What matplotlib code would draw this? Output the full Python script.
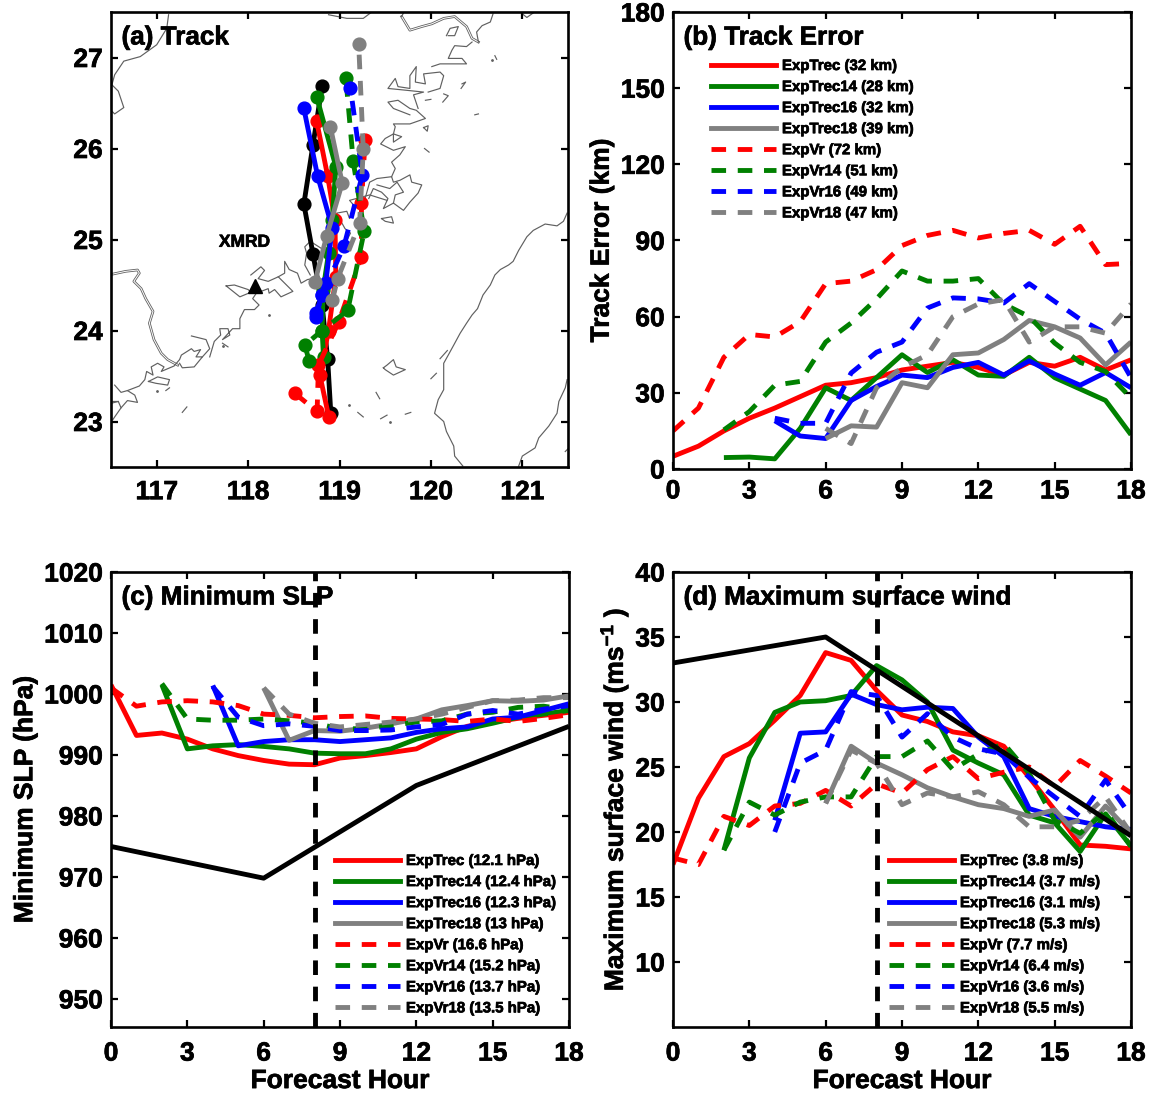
import matplotlib
matplotlib.use('Agg')
import matplotlib.pyplot as plt
import matplotlib.patheffects as pe
from matplotlib.lines import Line2D
from matplotlib.text import Text

plt.rcParams['font.family'] = ['Liberation Sans', 'DejaVu Sans']
plt.rcParams['font.weight'] = 'bold'
plt.rcParams['mathtext.fontset'] = 'custom'
plt.rcParams['mathtext.rm'] = 'Liberation Sans:bold'
plt.rcParams['mathtext.bf'] = 'Liberation Sans:bold'
plt.rcParams['mathtext.default'] = 'bf'

W, H = 1150, 1093
RED, GREEN, BLUE, GRAY = '#ff0000', '#008000', '#0000ff', '#808080'
names = ['ExpTrec', 'ExpTrec14', 'ExpTrec16', 'ExpTrec18', 'ExpVr', 'ExpVr14', 'ExpVr16', 'ExpVr18']
colors = [RED, GREEN, BLUE, GRAY, RED, GREEN, BLUE, GRAY]
starts = [0, 2, 4, 6, 0, 2, 4, 6]

# ---- Track (lon, lat) ----
obs_lon = [118.905, 118.87, 118.81, 118.71, 118.61, 118.71, 118.81]
obs_lat = [23.09, 23.69, 24.28, 24.84, 25.39, 26.04, 26.69]
trk_lon = [
    [118.883, 118.785, 118.88, 118.96, 118.95, 118.87, 118.75],
    [118.825, 118.81, 118.82, 118.88, 118.92, 118.96, 118.75],
    [118.74, 118.81, 118.85, 118.92, 118.76, 118.61],
    [118.73, 118.86, 119.03, 118.90],
    [118.51, 118.755, 118.77, 118.99, 119.24, 119.24, 119.28],
    [118.67, 118.62, 118.81, 119.09, 119.27, 119.15, 119.07],
    [118.74, 118.81, 119.05, 119.25, 119.12],
    [118.92, 118.98, 119.22, 119.26, 119.21],
]
trk_lat = [
    [23.05, 23.51, 24.0, 24.59, 25.21, 25.70, 26.30],
    [23.71, 24.0, 24.44, 24.85, 25.21, 25.80, 26.57],
    [24.19, 24.39, 24.52, 25.13, 25.70, 26.44],
    [24.53, 25.04, 25.62, 26.24],
    [23.31, 23.11, 23.62, 24.09, 24.81, 25.40, 26.09],
    [23.66, 23.84, 24.0, 24.22, 25.09, 25.86, 26.77],
    [24.15, 24.39, 24.93, 25.71, 26.66],
    [24.33, 24.57, 25.18, 25.99, 27.15],
]

# ---- Coastlines (lon, lat) ----
rivers = [
    [(116.52, 24.62), (116.66, 24.65), (116.79, 24.665), (116.81, 24.63), (116.75, 24.54), (116.83, 24.46), (116.88, 24.35),
     (116.96, 24.21), (116.92, 24.08), (116.97, 23.90), (117.05, 23.75), (117.12, 23.68), (117.23, 23.62)],
    [(119.68, 27.45), (119.77, 27.30), (119.90, 27.34), (120.01, 27.37), (120.14, 27.43), (120.26, 27.45), (120.39, 27.34),
     (120.45, 27.21), (120.52, 27.17)],
]
coasts = [
    [(117.13, 27.47), (117.11, 27.32), (117.0, 27.14), (116.82, 27.01), (116.64, 26.96), (116.54, 26.81), (116.51, 26.70),
     (116.58, 26.63), (116.64, 26.45), (116.54, 26.38), (116.51, 26.41)],
    [(116.52, 23.22), (116.58, 23.22), (116.61, 23.15), (116.68, 23.23), (116.79, 23.21), (116.76, 23.29), (116.68, 23.34),
     (116.61, 23.32), (116.54, 23.40)],
    [(116.5, 23.2), (116.58, 23.22)],
    [(116.61, 23.15), (116.54, 23.05), (116.52, 23.02)],
    [(116.68, 23.34), (116.81, 23.39), (116.87, 23.46), (116.89, 23.55), (116.96, 23.51), (116.94, 23.60), (117.01, 23.64),
     (117.08, 23.60), (117.05, 23.55), (117.19, 23.61), (117.25, 23.68), (117.27, 23.73), (117.38, 23.80), (117.41, 23.77),
     (117.48, 23.79), (117.43, 23.71), (117.50, 23.71), (117.41, 23.60), (117.28, 23.59), (117.25, 23.64)],
    [(117.38, 23.94), (117.54, 23.90), (117.58, 23.80), (117.50, 23.71)],
    [(117.58, 23.71), (117.63, 23.88), (117.70, 23.95), (117.69, 24.02), (117.78, 24.02), (117.80, 23.95), (117.72, 23.90),
     (117.83, 24.02), (117.91, 24.02), (117.91, 24.13), (117.96, 24.23), (118.07, 24.23), (118.12, 24.28), (118.05, 24.35),
     (118.09, 24.41), (118.22, 24.46), (118.23, 24.41), (118.29, 24.45), (118.36, 24.37), (118.49, 24.43), (118.40, 24.52),
     (118.33, 24.59), (118.22, 24.54), (118.11, 24.57), (118.18, 24.66), (118.14, 24.70), (118.03, 24.61)],
    [(118.33, 24.59), (118.40, 24.63), (118.40, 24.76), (118.45, 24.67), (118.54, 24.63), (118.58, 24.52), (118.65, 24.56), (118.71, 24.57)],
    [(117.76, 24.49), (117.85, 24.50), (118.0, 24.45), (118.03, 24.42), (117.91, 24.37), (117.76, 24.49)],
    [(116.91, 23.44), (117.01, 23.49), (117.14, 23.46), (117.12, 23.40), (116.99, 23.42), (116.91, 23.44)],
    [(118.68, 24.61), (118.62, 24.72), (118.64, 24.85), (118.62, 24.92), (118.68, 24.98), (118.82, 24.89), (118.97, 24.90),
     (119.08, 24.99), (119.12, 25.07), (119.06, 25.12), (119.01, 25.21), (118.97, 25.29), (119.08, 25.31), (119.11, 25.23),
     (119.17, 25.36), (119.11, 25.43), (119.33, 25.49), (119.52, 25.43)],
    [(119.46, 25.23), (119.57, 25.25), (119.59, 25.18), (119.50, 25.20), (119.46, 25.23)],
    [(119.28, 25.45), (119.33, 25.63), (119.41, 25.67), (119.57, 25.69), (119.59, 25.63), (119.66, 25.65), (119.77, 25.71),
     (119.79, 25.63), (119.90, 25.60), (119.86, 25.51), (119.77, 25.41), (119.70, 25.32), (119.59, 25.40), (119.48, 25.34),
     (119.53, 25.45), (119.46, 25.52), (119.37, 25.56), (119.32, 25.45)],
    [(119.41, 25.60), (119.55, 25.56), (119.63, 25.63), (119.70, 25.52), (119.61, 25.49), (119.59, 25.40)],
    [(119.57, 25.69), (119.61, 25.78), (119.57, 25.85), (119.66, 25.93), (119.72, 26.02), (119.59, 25.98), (119.45, 26.05),
     (119.50, 26.11), (119.59, 26.16), (119.68, 26.13), (119.59, 26.07), (119.59, 26.16), (119.61, 26.24), (119.59, 26.27),
     (119.77, 26.27), (119.94, 26.33), (119.84, 26.42), (119.77, 26.44), (119.64, 26.53), (119.53, 26.51), (119.59, 26.44), (119.77, 26.37)],
    [(119.86, 26.44), (119.81, 26.59), (119.92, 26.62), (119.73, 26.64), (119.53, 26.66), (119.61, 26.77), (119.64, 26.68),
     (119.77, 26.66), (119.77, 26.80), (119.84, 26.90), (119.83, 26.73), (119.94, 26.71), (119.92, 26.82), (120.10, 26.84),
     (120.14, 26.80), (120.10, 26.66), (119.97, 26.62)],
    [(120.01, 26.90), (120.10, 26.93), (120.25, 26.93), (120.39, 26.93), (120.34, 26.99), (120.19, 26.99), (120.23, 27.08),
     (120.26, 27.13), (120.39, 27.12), (120.45, 27.17)],
    [(120.52, 27.17), (120.50, 27.28), (120.56, 27.35), (120.65, 27.39), (120.68, 27.48)],
    [(120.17, 27.24), (120.21, 27.32), (120.30, 27.34), (120.26, 27.24), (120.19, 27.24)],
    [(119.68, 27.45), (119.70, 27.49)],
    [(121.0, 27.48), (121.05, 27.44), (121.12, 27.49)],
    [(118.88, 27.47), (119.08, 27.43), (119.26, 27.43), (119.34, 27.49)],
    [(121.49, 25.29), (121.45, 25.20), (121.38, 25.15), (121.25, 25.17), (121.12, 25.10), (121.05, 25.03), (120.96, 24.88),
     (120.90, 24.76), (120.85, 24.72), (120.76, 24.67), (120.70, 24.61), (120.65, 24.50), (120.57, 24.39), (120.51, 24.24),
     (120.45, 24.17), (120.39, 24.08), (120.32, 23.97), (120.25, 23.84), (120.19, 23.73), (120.14, 23.64), (120.14, 23.49),
     (120.14, 23.35), (120.08, 23.24), (120.04, 23.09), (120.14, 23.00), (120.17, 22.89), (120.25, 22.73), (120.26, 22.62), (120.35, 22.51)],
    [(120.96, 22.51), (121.0, 22.62), (121.14, 22.71), (121.18, 22.82), (121.29, 22.95), (121.38, 23.09), (121.40, 23.22),
     (121.47, 23.37), (121.49, 23.46)],
    [(119.48, 23.59), (119.52, 23.62), (119.59, 23.68), (119.62, 23.60), (119.72, 23.57), (119.59, 23.51), (119.50, 23.57), (119.48, 23.59)],
    [(120.10, 23.69), (120.18, 23.78)],
    [(120.0, 23.47), (120.06, 23.53)],
    [(119.92, 26.23), (119.97, 26.25), (119.96, 26.19), (119.92, 26.23)],
    [(120.34, 26.71), (120.38, 26.73), (120.33, 26.66)],
    [(120.48, 26.37), (120.52, 26.38)],
    [(120.70, 27.02), (120.72, 26.98)],
    [(120.14, 26.60), (120.19, 26.58), (120.13, 26.51)],
    [(119.94, 26.53), (120.0, 26.54)],
    [(119.93, 26.0), (119.98, 25.96)],
    [(119.40, 23.32), (119.44, 23.25)],
    [(119.45, 23.03), (119.52, 23.07)],
    [(119.72, 23.08), (119.78, 23.10)],
    [(119.20, 23.10), (119.26, 23.05)],
    [(117.28, 23.10), (117.33, 23.16)],
    [(117.10, 23.34), (117.14, 23.37)],
    [(117.72, 23.86), (117.78, 23.82)],
    [(121.47, 22.67), (121.50, 22.70)],
]
coast_dots = [(118.23, 24.17), (117.73, 23.83), (117.0, 23.34), (120.67, 26.97), (119.1, 23.18), (119.55, 23.0)]

# ---- (b) Track error (km) ----
err = [
    [5, 9, 15, 20, 24, 28.5, 33, 34, 36, 39, 40.5, 42, 40, 37, 42, 40.5, 44, 39, 43],
    [4.5, 4.7, 4, 16, 32, 27, 36, 45, 38, 43, 37, 36.5, 44, 36, 31.5, 27, 13.5],
    [19, 13, 12, 27, 32.5, 37, 36, 40, 42, 37, 42.6, 37.4, 33, 38, 32],
    [12, 17, 16.5, 34, 32, 45, 45.7, 51, 58.5, 56, 51.6, 41, 50],
    [15, 24, 44, 53, 52, 58, 73, 74, 78.5, 88, 92, 94, 91, 92.8, 94, 88.5, 95.6, 80.5, 81],
    [15.4, 22.6, 33, 34.5, 50, 57.5, 67, 78, 74, 74, 75, 65, 60, 49.6, 42, 38.4, 28],
    [20, 18, 18, 37.8, 46, 50, 63.4, 67.4, 67, 65.4, 73, 66, 59, 53.5, 36],
    [16, 10, 32, 40, 45, 60, 65, 66.7, 50, 56, 56, 53.5, 65],
]
err_rmse = ['32', '28', '32', '39', '72', '51', '49', '47']

# ---- (c) Minimum SLP (hPa) ----
slp_hours = [0, 6, 12, 18]
slp_obs = [975, 969.8, 985, 994.7]
slp = [
    [1001.5, 993.2, 993.6, 992.6, 991, 989.9, 989.1, 988.5, 988.4, 989.5, 989.9, 990.4, 991, 993, 994.7, 995.4, 996, 996.5, 997],
    [1001.5, 991, 991.5, 991.7, 991.4, 991, 990.3, 990.2, 990.2, 991, 992.6, 993.7, 994.3, 995.2, 996.2, 996.7, 997.3],
    [1001.4, 991.5, 992.2, 992.5, 992.5, 992.2, 992.5, 992.8, 993.7, 994.3, 994.6, 995.9, 996.2, 997.3, 998.4],
    [1001, 992.4, 994, 993.9, 994.4, 995.1, 995.9, 997.4, 998.1, 998.9, 998.8, 999, 999.7],
    [1001, 998, 998.7, 998.9, 998.7, 998.1, 996.7, 996.5, 996.1, 996.3, 996.4, 996, 995.9, 995.8, 995.5, 995.9, 995.5, 996, 996.6],
    [1001.7, 995.9, 995.7, 995.7, 995.9, 995.6, 995.2, 994.3, 994.3, 994.8, 995.4, 995.6, 996.7, 997, 997.8, 998, 997.4],
    [1001.2, 996.2, 994.8, 995.1, 994.7, 994, 994, 994.1, 994.6, 995, 996.7, 997.3, 996.7, 997.5, 998.1],
    [1001, 996.7, 995.2, 994.6, 995, 995.4, 995.9, 996.7, 997.8, 998.9, 999, 999.4, 999.4],
]
slp_rmse = ['12.1', '12.4', '12.3', '13', '16.6', '15.2', '13.7', '13.5']

# ---- (d) Maximum surface wind (m/s) ----
wind_hours = [0, 6, 12, 18]
wind_obs = [33, 35, 27.4, 19.7]
wind = [
    [17.5, 22.6, 25.8, 26.8, 28.6, 30.5, 33.8, 33.2, 30.9, 29, 28.5, 27.7, 27.4, 26.6, 24.2, 21.7, 19, 18.9, 18.7],
    [18.6, 25.7, 29.2, 30, 30.1, 30.5, 32.8, 31.7, 30, 26.3, 25.3, 24.4, 21.3, 20.7, 18.5, 21.4, 18.9],
    [20.9, 27.6, 27.7, 30.6, 29.8, 29.4, 29.6, 29.5, 27.3, 25.8, 21.8, 21.2, 20.8, 20.4, 20.2],
    [22.2, 26.6, 25.3, 24.4, 23.4, 22.7, 22.1, 21.8, 21.2, 21.7, 19.6, 22, 19.9],
    [18, 17.5, 21.2, 20.5, 22, 22.2, 23.2, 22, 23.7, 23, 24.8, 25.8, 24.1, 24.6, 25, 23.5, 25.5, 24.3, 23],
    [18.6, 22.3, 21.3, 22.3, 22.7, 22.7, 25.8, 25.8, 27, 24.8, 26, 26.8, 24.5, 20.9, 19.9, 21.6, 18.9],
    [20, 25.3, 26.3, 30.8, 30.5, 27.3, 29.1, 27.3, 26.4, 26, 24.2, 22.7, 21.2, 24, 21.2],
    [22.2, 26.3, 25.3, 22.1, 23, 22.7, 23.1, 22.1, 20.4, 20.4, 20.9, 22.7, 19.9],
]
wind_rmse = ['3.8', '3.7', '3.1', '5.3', '7.7', '6.4', '3.6', '5.5']

FS = 19
LW = 3.5
DASH = (0, (3.0, 2.4))
hour_ticks = [0, 3, 6, 9, 12, 15, 18]
COAST = '#606060'


def make_ax(left, top, right, bottom, xpad):
    ax = fig.add_axes([left / W, 1 - bottom / H, (right - left) / W, (bottom - top) / H])
    for s in ax.spines.values():
        s.set_linewidth(1.9)
    ax.tick_params(direction='in', top=True, right=True, length=5, width=1.6, labelsize=FS, pad=6)
    ax.tick_params(axis='x', pad=xpad)
    return ax


def style(i):
    return '-' if i < 4 else DASH


def draw_series(ax, data):
    for i, vals in enumerate(data):
        hrs = list(range(starts[i], starts[i] + len(vals)))
        ax.plot(hrs, vals, color=colors[i], lw=LW, ls=style(i), dash_capstyle='butt', solid_capstyle='butt')


def add_legend(ax, x, y, rmse, unit):
    handles = [Line2D([], [], color=colors[i], lw=LW, ls=style(i), dash_capstyle='butt') for i in range(8)]
    labels = [f'{names[i]} ({rmse[i]} {unit})' for i in range(8)]
    ax.legend(handles, labels, loc='upper left', bbox_to_anchor=(x / W, 1 - y / H),
              bbox_transform=fig.transFigure, frameon=False, fontsize=10.8, borderpad=0, borderaxespad=0,
              handlelength=4.33, handletextpad=0.4, labelspacing=0.47)


def title(ax, s):
    ax.text(0.023, 0.944, s, transform=ax.transAxes, fontsize=18.8, fontweight='bold', ha='left', va='center')


fig = plt.figure(figsize=(W / 100, H / 100), dpi=100)

# (a)
ax = make_ax(111, 12, 568, 467, 9.5)
for seg in rivers:
    ax.plot([p[0] for p in seg], [p[1] for p in seg], color=COAST, lw=1.9, zorder=1)
    ax.plot([p[0] for p in seg], [p[1] for p in seg], color='white', lw=0.7, zorder=1)
for seg in coasts:
    ax.plot([p[0] for p in seg], [p[1] for p in seg], color=COAST, lw=0.85, zorder=1)
ax.plot([p[0] for p in coast_dots], [p[1] for p in coast_dots], ls='none', marker='o', ms=1, color=COAST, zorder=1)
ax.plot(obs_lon, obs_lat, color='k', lw=LW, marker='o', ms=9.2, solid_capstyle='butt', zorder=2)
for i in range(8):
    ax.plot(trk_lon[i], trk_lat[i], color=colors[i], lw=LW, ls=style(i), marker='o', ms=9.2,
            dash_capstyle='butt', zorder=3)
ax.plot([118.08], [24.49], marker='^', color='k', ms=10, zorder=4)
ax.text(117.96, 24.97, 'XMRD', fontsize=12.5, fontweight='bold', ha='center', va='center')
ax.set_xlim(116.5, 121.5)
ax.set_ylim(22.5, 27.5)
ax.set_xticks([117, 118, 119, 120, 121])
ax.set_yticks([23, 24, 25, 26, 27])
title(ax, '(a) Track')

# (b)
ax = make_ax(673, 12, 1131, 469, 7.5)
draw_series(ax, err)
ax.set_xlim(0, 18)
ax.set_ylim(0, 180)
ax.set_xticks(hour_ticks)
ax.set_yticks(range(0, 181, 30))
ax.set_ylabel('Track Error (km)', fontsize=FS, fontweight='bold', labelpad=5)
title(ax, '(b) Track Error')
add_legend(ax, 711, 59, err_rmse, 'km')

# (c)
ax = make_ax(111, 572, 569, 1027, 10.5)
draw_series(ax, slp)
ax.plot(slp_hours, slp_obs, color='k', lw=LW, solid_capstyle='butt')
ax.axvline(8, color='k', lw=LW, ls=DASH, dash_capstyle='butt')
ax.set_xlim(0, 18)
ax.set_ylim(945.4, 1020)
ax.set_xticks(hour_ticks)
ax.set_yticks(range(950, 1021, 10))
ax.set_xlabel('Forecast Hour', fontsize=FS, fontweight='bold', labelpad=2.5)
ax.set_ylabel('Minimum SLP (hPa)', fontsize=FS, fontweight='bold', labelpad=5)
title(ax, '(c) Minimum SLP')
add_legend(ax, 335, 854, slp_rmse, 'hPa')

# (d)
ax = make_ax(673, 572, 1131, 1027, 10.5)
draw_series(ax, wind)
ax.plot(wind_hours, wind_obs, color='k', lw=LW, solid_capstyle='butt')
ax.axvline(8, color='k', lw=LW, ls=DASH, dash_capstyle='butt')
ax.set_xlim(0, 18)
ax.set_ylim(5, 40)
ax.set_xticks(hour_ticks)
ax.set_yticks(range(10, 41, 5))
ax.set_xlabel('Forecast Hour', fontsize=FS, fontweight='bold', labelpad=2.5)
ax.set_ylabel(r'Maximum surface wind (ms$^{-1}$ )', fontsize=FS, fontweight='bold', labelpad=3.5)
title(ax, '(d) Maximum surface wind')
add_legend(ax, 889, 854, wind_rmse, 'm/s')

for t in fig.findobj(Text):
    t.set_path_effects([pe.withStroke(linewidth=0.5, foreground='black')])

fig.savefig('out.png', dpi=100)
